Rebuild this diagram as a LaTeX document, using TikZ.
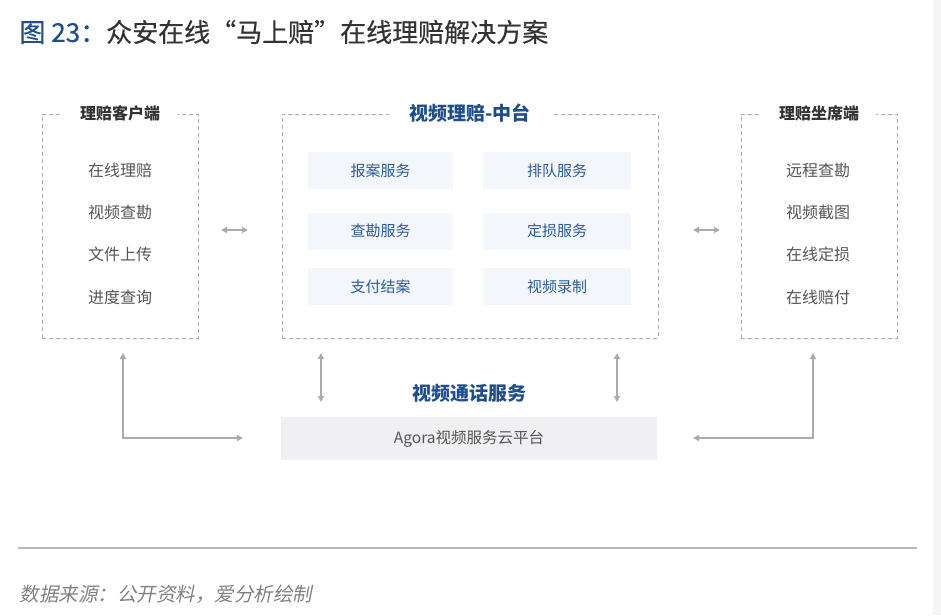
\documentclass[tikz,border=0pt]{standalone}
\usepackage{fontspec}
\setmainfont{Noto Sans CJK SC}
\newfontfamily\slantfont[FakeSlant=0.2]{Noto Sans CJK SC}
\newfontfamily\headfont[FakeBold=0.4]{Noto Sans CJK SC}
\usepackage{xcolor}
\usetikzlibrary{positioning,arrows.meta}

\definecolor{titleblue}{HTML}{1F4E8C}
\definecolor{serviceblue}{HTML}{2B5C9E}
\definecolor{servicefill}{HTML}{F3F6FA}
\definecolor{agorafill}{HTML}{F0F0F2}
\definecolor{framegray}{HTML}{AEAEAE}
\definecolor{linkgray}{HTML}{ABABAB}
\definecolor{itemgray}{HTML}{555555}
\definecolor{headgray}{HTML}{333333}

\tikzset{
  panel/.style={draw=framegray, line width=0.9pt, dash pattern=on 4pt off 3pt,
    minimum width=156pt, minimum height=224pt},
  paneltitle/.style={fill=white, inner xsep=17pt, inner ysep=2pt, text=headgray,
    font=\fontsize{16}{18}\selectfont\bfseries},
  item/.style={text=itemgray, font=\fontsize{16}{18}\selectfont},
  service/.style={fill=servicefill, text=serviceblue, minimum height=37pt,
    font=\fontsize{15}{17}\selectfont},
  link/.style={draw=linkgray, line width=1.4pt,
    {Triangle[length=6pt,width=6pt]}-{Triangle[length=6pt,width=6pt]}}
}

\begin{document}
\begin{tikzpicture}[x=1pt, y=1pt, node distance=42.4pt]
    \useasboundingbox (0,0) rectangle (941,-615);
    \fill[black!4] (933,0) rectangle (941,-615);

    % heading
    \node[anchor=west, text=headgray, font=\fontsize{26}{29}\selectfont\headfont] (heading) at (16,-32)
        {{\color{titleblue}图 23：}众安在线“马上赔”在线理赔解决方案};

    % three panels
    \node[panel] (client) at (120,-226) {};
    \node[panel, minimum width=376pt] (platform) at (470,-226) {};
    \node[panel] (seat) at (819,-226) {};

    \node[paneltitle] (clienttitle) at (client.north) {理赔客户端};
    \node[paneltitle, inner xsep=20pt, text=titleblue, font=\fontsize{19}{21}\selectfont\bfseries]
        (platformtitle) at (platform.north) {视频理赔-中台};
    \node[paneltitle] (seattitle) at (seat.north) {理赔坐席端};

    % client items
    \node[item] (client1) at (120,-170) {在线理赔};
    \node[item, below of=client1] (client2) {视频查勘};
    \node[item, below of=client2] (client3) {文件上传};
    \node[item, below of=client3] (client4) {进度查询};

    % seat items
    \node[item] (seat1) at (818,-170) {远程查勘};
    \node[item, below of=seat1] (seat2) {视频截图};
    \node[item, below of=seat2] (seat3) {在线定损};
    \node[item, below of=seat3] (seat4) {在线赔付};

    % platform services
    \node[service, minimum width=145pt] (report) at (380.5,-170.5) {报案服务};
    \node[service, minimum width=148pt] (queue) at (557,-170.5) {排队服务};
    \node[service, minimum width=145pt] (survey) at (380.5,-231) {查勘服务};
    \node[service, minimum width=148pt] (assess) at (557,-231) {定损服务};
    \node[service, minimum width=145pt] (pay) at (380.5,-286.5) {支付结案};
    \node[service, minimum width=148pt] (record) at (557,-286.5) {视频录制};

    % video call service
    \node[text=titleblue, font=\fontsize{19}{21}\selectfont\bfseries] (callservice) at (469,-393) {视频通话服务};
    \node[fill=agorafill, minimum width=376pt, minimum height=43pt, text=itemgray,
        font=\fontsize{15.5}{17}\selectfont] (agora) at (469,-438.5) {Agora视频服务云平台};

    % arrows
    \coordinate (lm1) at (221,-230);
    \coordinate (lm2) at (248,-230);
    \coordinate (mr1) at (693,-230);
    \coordinate (mr2) at (720,-230);
    \coordinate (cl1) at (123,-353);
    \coordinate (cl2) at (243,-438);
    \coordinate (sr1) at (813,-353);
    \coordinate (sr2) at (693,-438);
    \coordinate (pl1) at (321,-353);
    \coordinate (pl2) at (321,-402);
    \coordinate (pr1) at (617,-353);
    \coordinate (pr2) at (617,-402);

    \draw[link] (lm1) -- (lm2);
    \draw[link] (mr1) -- (mr2);
    \draw[link] (cl1) |- (cl2);
    \draw[link] (sr1) |- (sr2);
    \draw[link] (pl1) -- (pl2);
    \draw[link] (pr1) -- (pr2);

    % source line
    \draw[draw=black!28, line width=1.6pt] (18,-548) -- (917,-548);
    \node[anchor=west, text=black!50, font=\fontsize{19.5}{21}\selectfont\slantfont] (source) at (16,-594)
        {数据来源：公开资料，爱分析绘制};
\end{tikzpicture}
\end{document}
